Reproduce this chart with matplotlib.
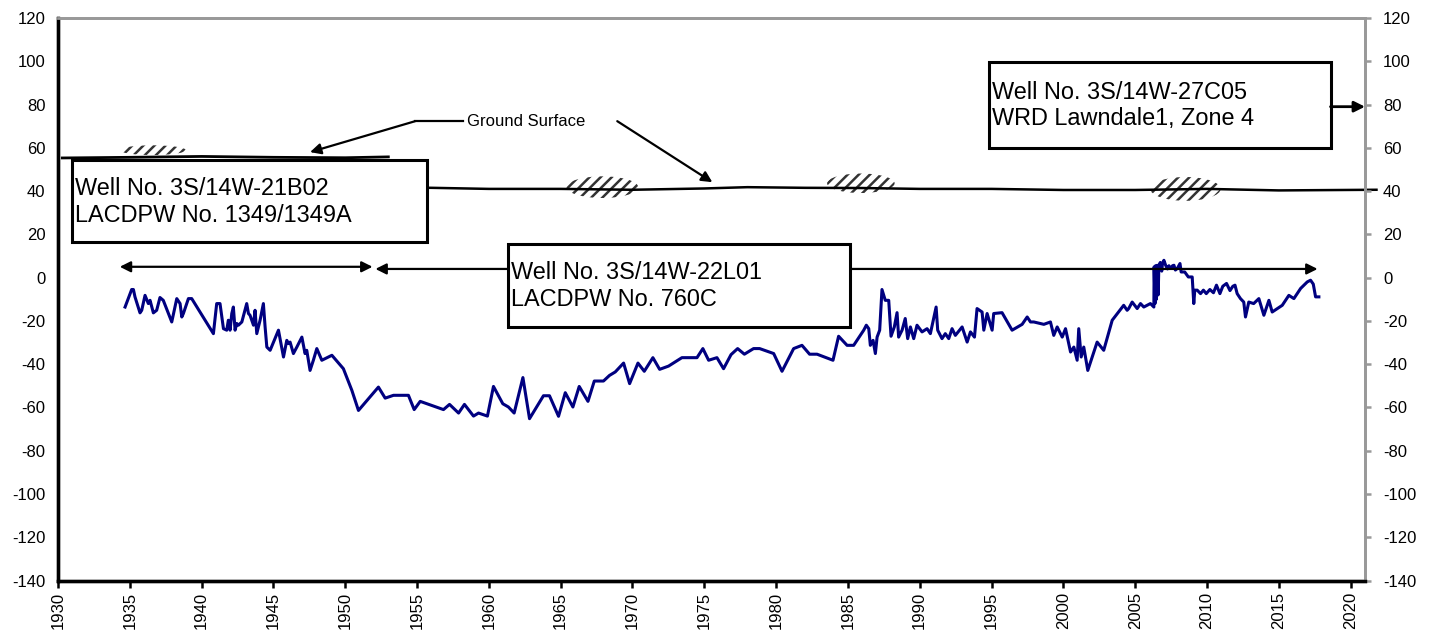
import matplotlib
matplotlib.use("Agg")
import matplotlib.pyplot as plt
from matplotlib.patches import Rectangle, Ellipse

plt.rcParams['font.family'] = ['Liberation Sans', 'DejaVu Sans']
plt.rcParams['hatch.linewidth'] = 1.8
plt.rcParams['axes.unicode_minus'] = False

# ---- data ----
hyd_year = [
    1934.67, 1935.13, 1935.25, 1935.36, 1935.71, 1935.83, 1936.06, 1936.29, 1936.41, 1936.64,
    1936.87, 1937.10, 1937.33, 1937.92, 1938.27, 1938.50, 1938.62, 1938.73, 1939.08, 1939.31,
    1940.82, 1941.05, 1941.28, 1941.52, 1941.75, 1941.86, 1941.98, 1942.10, 1942.21, 1942.33,
    1942.45, 1942.56, 1942.80, 1943.14, 1943.26, 1943.37, 1943.61, 1943.72, 1943.84, 1944.07,
    1944.30, 1944.42, 1944.54, 1944.77, 1945.35, 1945.70, 1945.93, 1946.04, 1946.16, 1946.39,
    1946.63, 1946.98, 1947.20, 1947.32, 1947.55, 1947.78, 1948.02, 1948.37, 1949.07, 1949.87,
    1950.46, 1950.92, 1952.31, 1952.78, 1953.36, 1954.40, 1954.80, 1955.22, 1956.84, 1957.26,
    1957.89, 1958.30, 1958.93, 1959.28, 1959.90, 1960.32, 1960.97, 1961.36, 1961.76, 1962.37,
    1962.83, 1963.80, 1964.22, 1964.85, 1965.32, 1965.85, 1966.29, 1966.90, 1967.34, 1967.98,
    1968.40, 1968.80, 1969.38, 1969.80, 1970.38, 1970.82, 1971.42, 1971.89, 1972.51, 1973.44,
    1974.49, 1974.90, 1975.30, 1975.88, 1976.34, 1976.86, 1977.32, 1977.79, 1978.43, 1978.85,
    1979.83, 1980.41, 1981.22, 1981.80, 1982.33, 1982.85, 1983.96, 1984.35, 1984.94, 1985.40,
    1986.10, 1986.28, 1986.45, 1986.56, 1986.75, 1986.91, 1987.03, 1987.21, 1987.37, 1987.60,
    1987.84, 1988.00, 1988.23, 1988.42, 1988.53, 1988.77, 1988.99, 1989.16, 1989.35, 1989.58,
    1989.81, 1990.16, 1990.51, 1990.74, 1991.14, 1991.25, 1991.55, 1991.78, 1992.02, 1992.25,
    1992.48, 1992.95, 1993.30, 1993.53, 1993.81, 1993.99, 1994.34, 1994.46, 1994.69, 1995.04,
    1995.15, 1995.73, 1996.43, 1997.13, 1997.48, 1997.71, 1997.94, 1998.64, 1999.10, 1999.33,
    1999.57, 1999.92, 2000.15, 2000.50, 2000.73, 2000.96, 2001.07, 2001.24, 2001.42, 2001.70,
    2002.35, 2002.81, 2003.40, 2004.20, 2004.44, 2004.55, 2004.79, 2005.14, 2005.37, 2005.60,
    2006.06, 2006.30, 2006.32, 2006.38, 2006.42, 2006.48, 2006.53, 2006.60, 2006.65, 2006.75,
    2006.85, 2006.90, 2007.00, 2007.12, 2007.25, 2007.35, 2007.47, 2007.60, 2007.70, 2007.80,
    2007.93, 2008.12, 2008.20, 2008.45, 2008.70, 2008.97, 2009.08, 2009.15, 2009.32, 2009.55,
    2009.75, 2009.95, 2010.20, 2010.45, 2010.66, 2010.90, 2011.10, 2011.36, 2011.60, 2011.80,
    2011.95, 2012.10, 2012.33, 2012.56, 2012.68, 2012.91, 2013.25, 2013.61, 2013.96, 2014.31,
    2014.54, 2015.24, 2015.70, 2016.05, 2016.52, 2016.98, 2017.21, 2017.40, 2017.56, 2017.79,
]
hyd_level = [
    -13.6, -5.5, -5.5, -8.9, -16.3, -15.1, -8.2, -12.0, -10.5, -16.3,
    -15.1, -9.2, -10.5, -20.5, -9.7, -12.0, -18.2, -16.6, -9.7, -9.7,
    -25.9, -12.0, -12.0, -23.6, -24.3, -19.7, -24.3, -16.6, -13.6, -24.3,
    -21.2, -22.0, -20.5, -12.0, -16.6, -17.4, -22.0, -15.1, -25.9, -19.7,
    -12.0, -22.8, -32.1, -33.6, -24.3, -36.7, -29.0, -30.5, -29.8, -35.1,
    -32.1, -27.5, -35.1, -33.6, -42.9, -38.2, -32.8, -38.2, -35.9, -42.1,
    -52.1, -61.4, -50.6, -55.7, -54.4, -54.4, -61.0, -57.2, -61.0, -58.6,
    -62.6, -58.6, -64.0, -62.6, -64.0, -50.3, -58.3, -59.8, -62.6, -46.2,
    -65.2, -54.6, -54.6, -64.1, -53.2, -59.8, -50.3, -57.2, -47.8, -47.8,
    -45.2, -43.6, -39.5, -49.0, -39.5, -43.3, -37.0, -42.4, -40.9, -37.0,
    -37.0, -32.8, -38.2, -37.0, -42.1, -35.6, -32.8, -35.4, -32.8, -32.8,
    -35.1, -43.3, -32.8, -31.3, -35.4, -35.4, -38.2, -27.1, -31.3, -31.3,
    -24.3, -22.0, -23.6, -31.3, -29.0, -35.1, -27.5, -24.3, -5.5, -10.5,
    -10.5, -27.1, -22.8, -16.2, -27.5, -24.3, -18.9, -28.2, -22.8, -28.2,
    -22.0, -25.1, -23.6, -25.9, -13.6, -24.3, -28.2, -25.9, -28.2, -23.6,
    -26.7, -22.8, -29.8, -25.1, -27.5, -14.3, -15.9, -24.3, -16.6, -24.3,
    -16.6, -16.2, -24.3, -21.6, -18.2, -20.5, -20.5, -21.6, -20.5, -26.7,
    -22.8, -27.5, -23.6, -34.4, -32.1, -38.2, -23.6, -36.7, -32.1, -42.9,
    -29.8, -33.6, -19.7, -12.8, -15.1, -14.3, -11.3, -14.3, -12.0, -13.6,
    -12.0, -13.6, 5.0, -12.0, 5.5, -10.0, 5.7, -8.0, 5.7, 7.0,
    3.0, 6.5, 8.0, 5.7, 4.0, 5.5, 4.2, 5.5, 5.7, 3.5,
    4.2, 6.5, 2.6, 2.6, 0.3, 0.3, -12.0, -5.8, -5.8, -7.4,
    -5.8, -7.4, -5.5, -7.0, -3.5, -7.4, -4.0, -2.7, -6.0, -4.0,
    -3.5, -7.4, -9.7, -11.3, -18.2, -11.3, -12.0, -9.7, -17.4, -10.5,
    -15.9, -12.8, -8.2, -9.7, -5.0, -2.0, -1.2, -3.0, -8.9, -8.9,
]

# ground surface (two wells)
gs1_year = [1930.3, 1935.0, 1940.0, 1945.0, 1950.0, 1953.0]
gs1_level = [55.3, 55.6, 56.0, 55.6, 55.4, 55.8]
gs2_year = [1952.0, 1956.0, 1960.0, 1965.0, 1970.0, 1975.0, 1978.0, 1982.0, 1986.0,
            1990.0, 1995.0, 2000.0, 2005.0, 2010.0, 2015.0, 2021.8]
gs2_level = [41.8, 41.5, 41.0, 41.0, 40.6, 41.2, 41.8, 41.5, 41.4,
             41.0, 41.0, 40.5, 40.5, 41.0, 40.3, 40.6]

x_ticks = list(range(1930, 2021, 5))
y_ticks = list(range(-140, 121, 20))

box_texts = ["Well No. 3S/14W-21B02\nLACDPW No. 1349/1349A",
             "Well No. 3S/14W-22L01\nLACDPW No. 760C",
             "Well No. 3S/14W-27C05\nWRD Lawndale1, Zone 4"]

# ---- figure ----
fig = plt.figure(figsize=(14.32, 6.35), dpi=100)
ax = fig.add_axes([0.0405, 0.0858, 0.9127, 0.8859])
ax.set_xlim(1930, 2021)
ax.set_ylim(-140, 120)

ax.plot(hyd_year, hyd_level, color='#000080', lw=2.2, zorder=3)
ax.plot(gs1_year, gs1_level, color='black', lw=2.0, zorder=2)
ax.plot(gs2_year, gs2_level, color='black', lw=1.8, zorder=2, clip_on=False)

# hatched soil symbols
for (cx, cy, w, h) in [(1936.6, 58.9, 4.6, 4.5), (1967.9, 41.8, 5.0, 10.0),
                       (1985.9, 43.6, 4.7, 9.0), (2008.5, 41.0, 4.9, 11.0)]:
    ax.add_patch(Ellipse((cx, cy), w, h, facecolor='none', edgecolor='#333333',
                         lw=0, hatch='///', zorder=1))

# span arrows
arrow_kw = dict(arrowstyle='<|-|>', color='black', lw=1.6, mutation_scale=16,
                shrinkA=0, shrinkB=0)
ax.annotate('', xy=(1951.9, 5.0), xytext=(1934.3, 5.0), arrowprops=arrow_kw, zorder=4)
ax.annotate('', xy=(2017.7, 4.0), xytext=(1952.1, 4.0), arrowprops=arrow_kw, zorder=4)

# boxes
boxes = [(1931.0, 16.4, 24.7, 37.9), (1961.35, -23.0, 23.8, 38.4), (1994.8, 59.9, 23.8, 39.7)]
text_pos = [(1931.2, 35.0), (1961.55, -4.0), (1995.0, 79.5)]
for (bx, by, bw, bh), (tx, ty), t in zip(boxes, text_pos, box_texts):
    ax.add_patch(Rectangle((bx, by), bw, bh, facecolor='white', edgecolor='black',
                           lw=2.2, zorder=5))
    ax.text(tx, ty, t, fontsize=16.9, ha='left', va='center', zorder=6, linespacing=1.2)

# arrow from box 3 to right axis
ax.annotate('', xy=(2021.0, 79.0), xytext=(2018.6, 79.0),
            arrowprops=dict(arrowstyle='-|>', color='black', lw=2.0, mutation_scale=16,
                            shrinkA=0, shrinkB=0), zorder=6, annotation_clip=False)

# Ground Surface label with arrows
ax.text(1958.5, 72.3, "Ground Surface", fontsize=12, ha='left', va='center', zorder=6)
ax.plot([1958.2, 1954.87], [72.3, 72.3], color='black', lw=1.6, zorder=4)
gs_arrow = dict(arrowstyle='-|>', color='black', lw=1.6, mutation_scale=16,
                shrinkA=0, shrinkB=0)
ax.annotate('', xy=(1947.55, 58.0), xytext=(1954.87, 72.3), arrowprops=gs_arrow, zorder=4)
ax.annotate('', xy=(1975.56, 44.1), xytext=(1968.94, 72.3), arrowprops=gs_arrow, zorder=4)

# axes styling
ax.set_xticks(x_ticks)
ax.set_xticklabels([str(v) for v in x_ticks], rotation=90)
ax.set_yticks(y_ticks)
ax.tick_params(axis='x', direction='out', length=5, width=1.8, color='black',
               labelsize=12, pad=3)
ax.tick_params(axis='y', left=False, right=False, labelleft=True, labelright=False,
               direction='out', length=0, labelsize=12, pad=9)

axr = ax.twinx()
axr.set_ylim(-140, 120)
axr.set_yticks(y_ticks)
axr.tick_params(axis='y', right=True, labelright=True, direction='out', length=4,
                width=1.8, color='#999999', labelsize=12, pad=9)

for a in (ax, axr):
    a.spines['left'].set_color('black')
    a.spines['left'].set_linewidth(2.4)
    a.spines['bottom'].set_color('black')
    a.spines['bottom'].set_linewidth(2.4)
    a.spines['top'].set_color('#999999')
    a.spines['top'].set_linewidth(2.0)
    a.spines['right'].set_color('#999999')
    a.spines['right'].set_linewidth(2.0)

fig.savefig('out.png', dpi=100)
